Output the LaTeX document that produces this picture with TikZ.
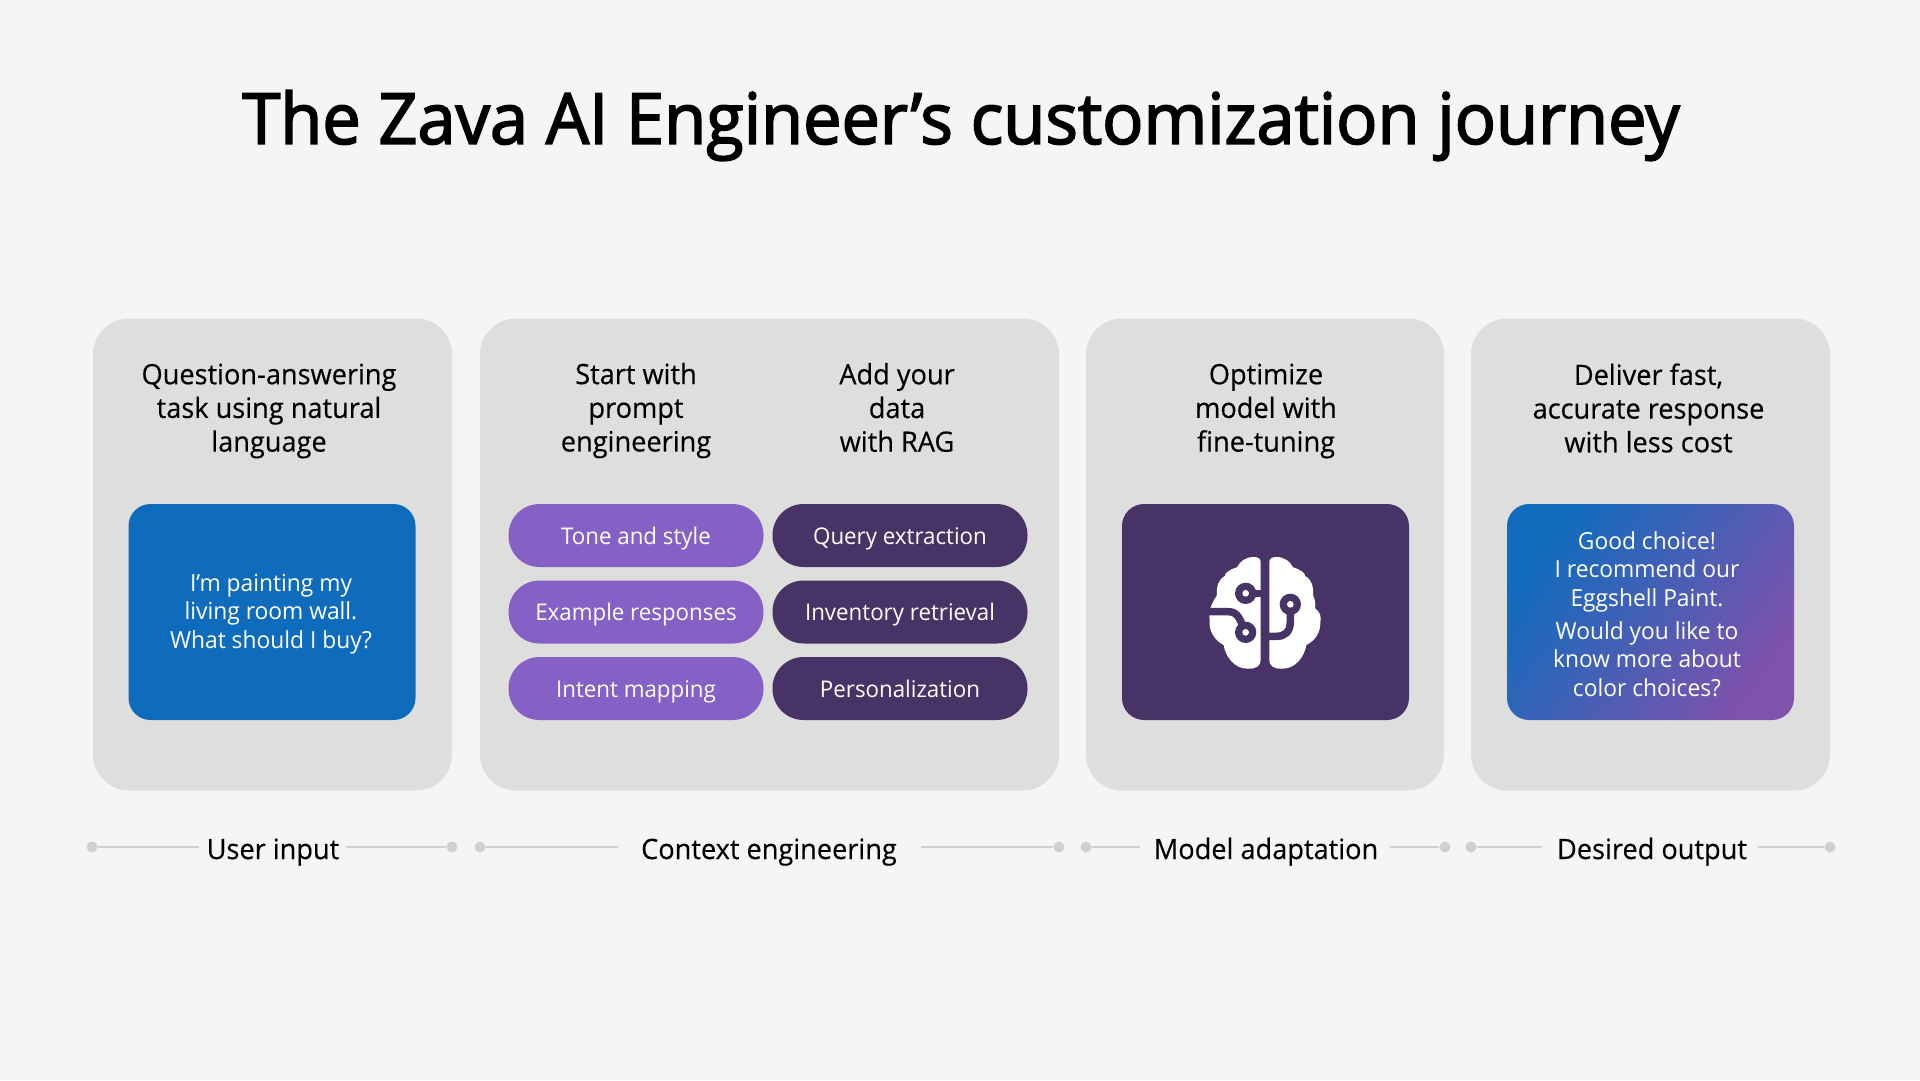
\documentclass[tikz,border=0pt]{standalone}
\usepackage{fontspec}
\setmainfont[FakeStretch=0.97]{Open Sans}
\newfontfamily\medfont[FakeStretch=0.97,FakeBold=0.3]{Open Sans}
\newfontfamily\titlefont[FakeStretch=0.97,FakeBold=2.4]{Open Sans}
\definecolor{bgc}{HTML}{F5F5F3}
\definecolor{panelc}{HTML}{DEDEDC}
\definecolor{bluec}{HTML}{0F6CBD}
\definecolor{lilac}{HTML}{8661C5}
\definecolor{plum}{HTML}{473366}
\definecolor{linec}{HTML}{D0D0CE}
\definecolor{gradend}{HTML}{7F52AC}
\newcommand{\fs}[2]{\fontsize{#1}{#2}\selectfont}
\tikzset{
  panel/.style={fill=panelc,rounded corners=36pt,inner sep=0pt,minimum height=472pt},
  card/.style={rounded corners=22pt,inner sep=0pt,minimum width=287pt,minimum height=216pt},
  cardtext/.style={text=white,align=center,inner sep=0pt,font=\fs{23.5}{28.6}},
  pill/.style={rounded corners=31pt,inner sep=0pt,minimum width=255pt,minimum height=63pt,text=white,font=\fs{23}{28},text height=20pt,text depth=3pt},
  head/.style={align=center,text=black,inner sep=0pt,font=\medfont\fs{28}{33.7}},
  axlabel/.style={text=black,inner sep=0pt,font=\medfont\fs{28}{33},text height=27pt,text depth=7pt},
  dotn/.style={circle,fill=linec,inner sep=0pt,minimum size=11pt},
  axline/.style={draw=linec,line width=2.8pt}
}
\begin{document}
\begin{tikzpicture}[x=1pt,y=-1pt]
\useasboundingbox (0,0) rectangle (1920,1080);
\fill[bgc] (0,0) rectangle (1920,1080);
\node[text=black,inner sep=0pt,font=\titlefont\fs{70.6}{80}] (title) at (961,125.5) {The Zava AI Engineer’s customization journey};

\node[panel,minimum width=359pt] (p1) at (272.5,554.5) {};
\node[panel,minimum width=579pt] (p2) at (769.5,554.5) {};
\node[panel,minimum width=358pt] (p3) at (1265,554.5) {};
\node[panel,minimum width=359pt] (p4) at (1650.5,554.5) {};

\node[head] (h1) at (269,411) {Question-answering\\task using natural\\language};
\node[head] (h2) at (636,410.5) {Start with\\prompt\\engineering};
\node[head] (h3) at (897,407.5) {Add your\\data\\with RAG};
\node[head] (h4) at (1266,411) {Optimize\\model with\\fine-tuning};
\node[head] (h5) at (1648.5,408) {Deliver fast,\\accurate response\\with less cost};

\node[card,fill=bluec] (c1) at (272,612) {};
\node[cardtext] (c1t) at (271,614) {I’m painting my\\living room wall.\\What should I buy?};

\node[pill,fill=lilac] (a1) at (636,535.5) {Tone and style};
\node[pill,fill=lilac] (a2) at (636,612) {Example responses};
\node[pill,fill=lilac] (a3) at (636,688.5) {Intent mapping};
\node[pill,fill=plum] (b1) at (900,535.5) {Query extraction};
\node[pill,fill=plum] (b2) at (900,612) {Inventory retrieval};
\node[pill,fill=plum] (b3) at (900,688.5) {Personalization};

\node[card,fill=plum] (c3) at (1265.5,612) {};
\begin{scope}[shift={(1100,480)},x=0.3333pt,y=-0.3333pt]
  % left hemisphere
  \fill[white] (482,246) .. controls (482,236) and (474,231) .. (462,231)
    .. controls (436,231) and (420,244) .. (411,262)
    .. controls (388,268) and (372,282) .. (375,288)
    .. controls (354,298) and (349,322) .. (351,346)
    .. controls (334,372) and (325,392) .. (329,418)
    .. controls (325,452) and (344,482) .. (371,495)
    .. controls (376,528) and (402,566) .. (442,566)
    .. controls (470,568) and (482,556) .. (482,540) -- cycle;
  % right hemisphere
  \fill[white] (508,246) .. controls (508,236) and (516,231) .. (528,231)
    .. controls (554,231) and (570,244) .. (579,262)
    .. controls (602,268) and (618,282) .. (615,288)
    .. controls (636,298) and (641,322) .. (639,346)
    .. controls (646,360) and (647,372) .. (645,384)
    .. controls (660,396) and (665,410) .. (661,428)
    .. controls (662,456) and (646,482) .. (619,495)
    .. controls (614,528) and (588,566) .. (548,566)
    .. controls (520,568) and (508,556) .. (508,540) -- cycle;
  % circuit traces
  \draw[plum,line width=7.5pt] (437,340) -- (490,340);
  \draw[plum,line width=7.5pt] (322,395) -- (385,395) .. controls (415,395) and (420,420) .. (437,457);
  \draw[plum,line width=7.5pt] (571,373) -- (571,425) .. controls (571,455) and (555,469) .. (530,469) -- (500,469);
  \fill[plum] (437,340) circle[radius=32];
  \fill[plum] (437,457) circle[radius=32];
  \fill[plum] (571,373) circle[radius=32];
  \fill[white] (437,340) circle[radius=10];
  \fill[white] (437,457) circle[radius=10];
  \fill[white] (571,373) circle[radius=10];
\end{scope}

\node[card,shade,shading=axis,left color=bluec,right color=gradend,shading angle=55] (c4) at (1650.5,612) {};
\node[cardtext] (c4t) at (1647,614) {Good choice!\\I recommend our\\Eggshell Paint.\\[4pt]Would you like to\\know more about\\color choices?};

% bottom labels and rails
\node[axlabel] (l1) at (273,849) {User input};
\node[axlabel] (l2) at (769,849) {Context engineering};
\node[axlabel] (l3) at (1266,849) {Model adaptation};
\node[axlabel] (l4) at (1652,849) {Desired output};

\node[dotn] (d1a) at (92,847) {};
\node[dotn] (d1b) at (452,847) {};
\node[dotn] (d2a) at (480,847) {};
\node[dotn] (d2b) at (1059,847) {};
\node[dotn] (d3a) at (1086,847) {};
\node[dotn] (d3b) at (1445,847) {};
\node[dotn] (d4a) at (1471,847) {};
\node[dotn] (d4b) at (1830,847) {};

\coordinate (e1a) at (199,847);
\coordinate (e1b) at (346,847);
\coordinate (e2a) at (618,847);
\coordinate (e2b) at (921,847);
\coordinate (e3a) at (1140,847);
\coordinate (e3b) at (1390,847);
\coordinate (e4a) at (1542,847);
\coordinate (e4b) at (1758,847);
\draw[axline] (d1a) -- (e1a);
\draw[axline] (e1b) -- (d1b);
\draw[axline] (d2a) -- (e2a);
\draw[axline] (e2b) -- (d2b);
\draw[axline] (d3a) -- (e3a);
\draw[axline] (e3b) -- (d3b);
\draw[axline] (d4a) -- (e4a);
\draw[axline] (e4b) -- (d4b);
\end{tikzpicture}
\end{document}
